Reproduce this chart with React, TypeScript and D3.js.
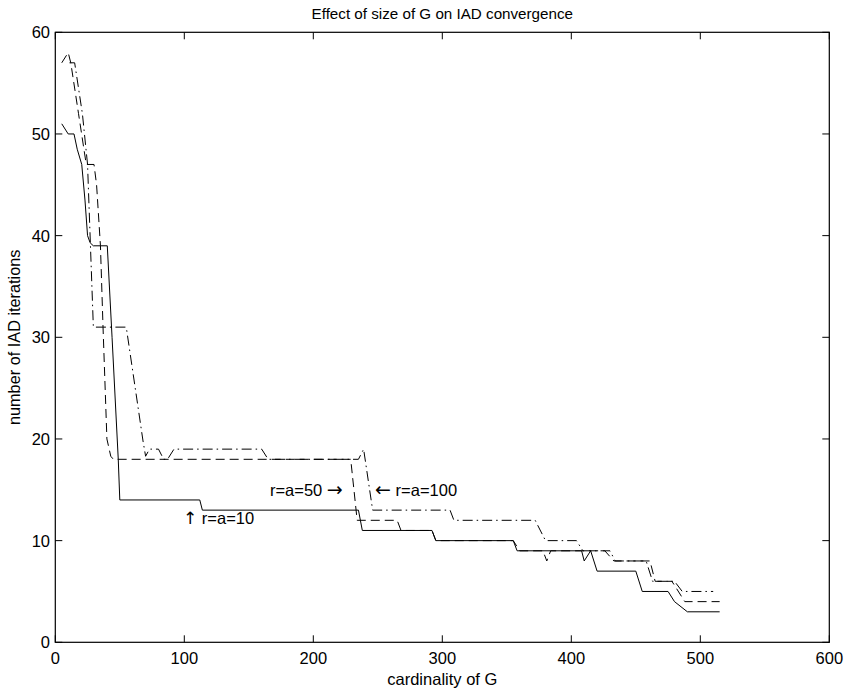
import React from 'react';
import * as d3 from 'd3';

const xTicks = [0, 100, 200, 300, 400, 500, 600];
const yTicks = [0, 10, 20, 30, 40, 50, 60];

// r=a=10 (solid)
const solidX = [5, 10, 14.5, 17, 20.5, 23, 25, 27, 29.5, 40.3, 44, 48.8, 50, 112, 114, 235, 238, 292, 295, 355, 358, 408, 410, 415, 420, 450, 455, 475, 480, 490, 515];
const solidY = [51, 50, 50, 48.5, 47, 43.5, 40, 39.3, 39, 39, 30, 18, 14, 14, 13, 13, 11, 11, 10, 10, 9, 9, 8, 9, 7, 7, 5, 5, 4, 3, 3];

// r=a=50 (dashed)
const dashX = [5, 10, 12, 18, 24, 30, 32, 35, 37, 40, 43, 45, 229, 234, 265, 268, 292, 295, 355, 360, 378, 381, 384, 426, 433, 461, 465, 478, 488, 515];
const dashY = [57, 58, 57, 52, 47, 47, 45, 39, 31, 20, 18.3, 18, 18, 12, 12, 11, 11, 10, 10, 9, 9, 8, 9, 9, 8, 8, 6, 6, 4, 4];

// r=a=100 (dash-dot)
const dotX = [11, 15, 21, 25, 29.5, 55, 68, 70, 73, 80, 84, 87, 92, 160, 165, 235, 239, 246, 306, 309, 372, 380, 404, 409, 430, 434, 458, 463, 480, 486, 510];
const dotY = [57, 57, 52, 47, 31, 31, 19.8, 18.3, 19, 19, 18, 18, 19, 19, 18, 18, 19, 13, 13, 12, 12, 10, 10, 9, 9, 8, 8, 6, 6, 5, 5];

const titleText = 'Effect of size of G on IAD convergence';
const xLabel = 'cardinality of G';
const yLabel = 'number of IAD iterations';

const W = 847, H = 693;
const L = 55.3, R = 829.3, T = 32.3, B = 642.3;
const FONT = 'Liberation Sans, Arial, Helvetica, sans-serif';
const ARROWFONT = 'DejaVu Sans, sans-serif';

export default function App() {
  const x = d3.scaleLinear().domain([0, 600]).range([L, R]);
  const y = d3.scaleLinear().domain([0, 60]).range([B, T]);
  const line = d3.line<[number, number]>().x(d => x(d[0])).y(d => y(d[1]));
  const mk = (xs: number[], ys: number[]) => line(xs.map((v, i) => [v, ys[i]] as [number, number])) || '';
  const tl = 7;
  return (
    <svg width={W} height={H} style={{ position: 'absolute', left: 0, top: 0, background: '#fff' }} fontFamily={FONT}>
      <rect x={0} y={0} width={W} height={H} fill="#fff" />
      <rect x={L} y={T} width={R - L} height={B - T} fill="none" stroke="#000" strokeWidth={1.2} />
      {xTicks.map(t => (
        <g key={'x' + t}>
          <line x1={x(t)} x2={x(t)} y1={B} y2={B - tl} stroke="#000" />
          <line x1={x(t)} x2={x(t)} y1={T} y2={T + tl} stroke="#000" />
          <text x={x(t)} y={664} textAnchor="middle" fontSize={16.5}>{t}</text>
        </g>
      ))}
      {yTicks.map(t => (
        <g key={'y' + t}>
          <line x1={L} x2={L + tl} y1={y(t)} y2={y(t)} stroke="#000" />
          <line x1={R} x2={R - tl} y1={y(t)} y2={y(t)} stroke="#000" />
          <text x={50} y={y(t) + 6} textAnchor="end" fontSize={16.5}>{t}</text>
        </g>
      ))}
      <path d={mk(solidX, solidY)} fill="none" stroke="#000" strokeWidth={1} />
      <path d={mk(dashX, dashY)} fill="none" stroke="#000" strokeWidth={1} strokeDasharray="9,5" />
      <path d={mk(dotX, dotY)} fill="none" stroke="#000" strokeWidth={1} strokeDasharray="10,4,1.5,4" />
      <text x={x(166.4)} y={y(14.4)} fontSize={16.5}>r=a=50 <tspan fontFamily={ARROWFONT} fontSize={19}>→</tspan></text>
      <text x={x(247.9)} y={y(14.4)} fontSize={16.5}><tspan fontFamily={ARROWFONT} fontSize={19}>←</tspan> r=a=100</text>
      <text x={x(99)} y={y(11.6)} fontSize={16.5}><tspan fontFamily={ARROWFONT} fontSize={17}>↑</tspan> r=a=10</text>
      <text x={(L + R) / 2} y={18.5} textAnchor="middle" fontSize={15.2}>{titleText}</text>
      <text x={(L + R) / 2} y={685} textAnchor="middle" fontSize={16.5}>{xLabel}</text>
      <text transform={`translate(20,${(T + B) / 2}) rotate(-90)`} textAnchor="middle" fontSize={16.3}>{yLabel}</text>
    </svg>
  );
}
